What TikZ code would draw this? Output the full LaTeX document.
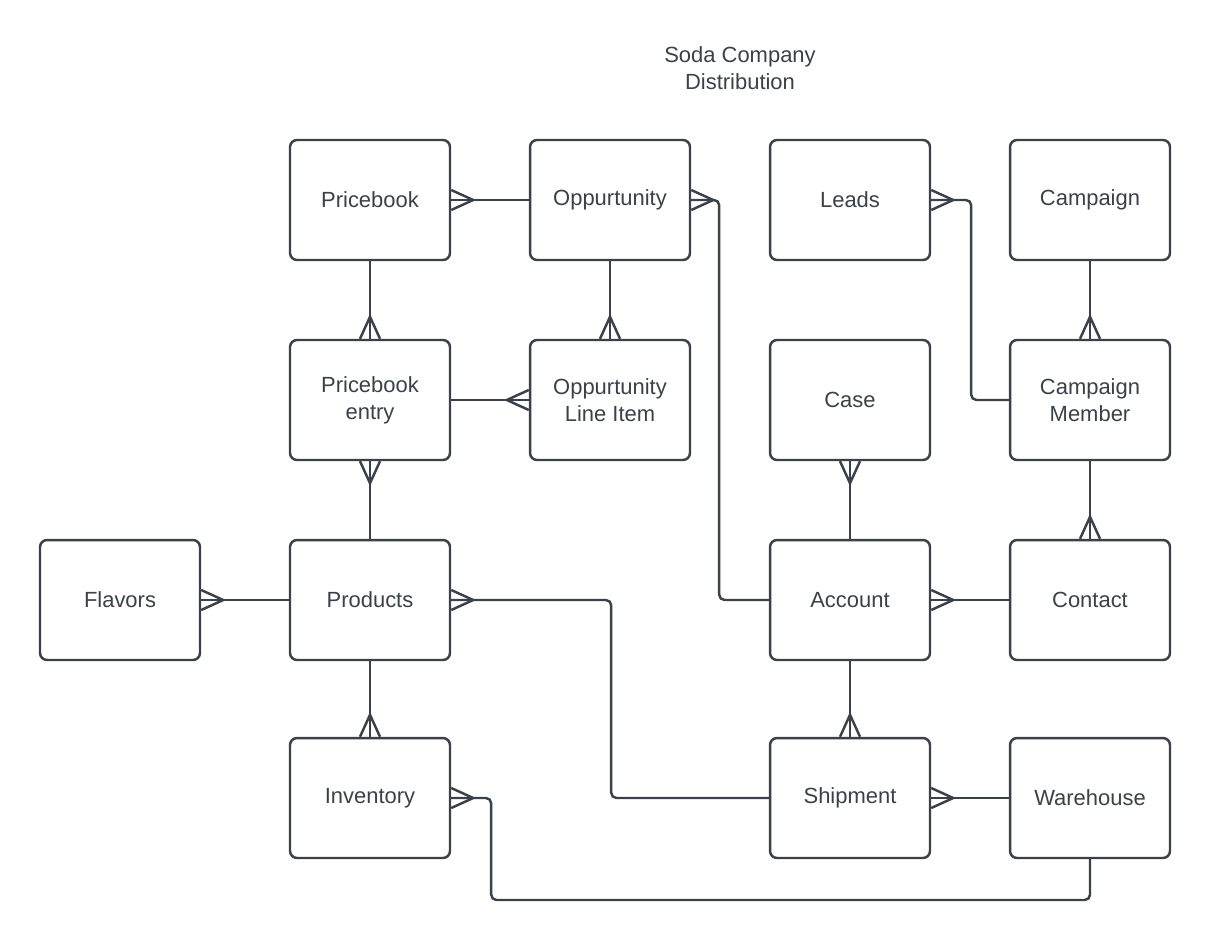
\documentclass[tikz,border=0pt]{standalone}
\usepackage{fontspec}
\setmainfont{Liberation Sans}
\usetikzlibrary{positioning}
\definecolor{ink}{HTML}{3A414A}
\tikzset{
    entity/.style={rectangle, rounded corners=4pt, draw=ink, line width=1.4pt, minimum width=3.2cm, minimum height=2.4cm, align=center, text=ink, font=\fontsize{12.5}{15.4}\selectfont},
    link/.style={draw=ink, line width=1.4pt, rounded corners=3pt},
    crow/.style={draw=ink, line width=1.4pt, sharp corners},
    heading/.style={align=center, text=ink, font=\fontsize{12.5}{15.4}\selectfont}
}
% crow's foot: point, direction of the apex
\newcommand{\crowfoot}[2]{\draw[crow, shift={(#1)}, rotate=#2] (0cm,0.2cm) -- (0.44cm,0cm) -- (0cm,-0.2cm);}

\begin{document}
\begin{tikzpicture}[x=0.02cm, y=-0.02cm]
        \useasboundingbox (0,0) rectangle (1210,940);

        % Title
        \node[heading] (title) at (740,68) {Soda Company\\Distribution};

        % Top row
        \node[entity] (pb) at (370,200) {Pricebook};
        \node[entity] (opp) at (610,200) {Oppurtunity};
        \node[entity] (leads) at (850,200) {Leads};
        \node[entity] (camp) at (1090,200) {Campaign};

        % Second row
        \node[entity] (pbe) at (370,400) {Pricebook\\entry};
        \node[entity] (oli) at (610,400) {Oppurtunity\\Line Item};
        \node[entity] (case) at (850,400) {Case};
        \node[entity] (cm) at (1090,400) {Campaign\\Member};

        % Third row
        \node[entity] (flav) at (120,600) {Flavors};
        \node[entity] (prod) at (370,600) {Products};
        \node[entity] (acct) at (850,600) {Account};
        \node[entity] (contact) at (1090,600) {Contact};

        % Bottom row
        \node[entity] (inv) at (370,798) {Inventory};
        \node[entity] (ship) at (850,798) {Shipment};
        \node[entity] (wh) at (1090,798) {Warehouse};

        % Connectors
        \draw[link] (pb) -- (opp);
        \draw[link] (pb) -- (pbe);
        \draw[link] (opp) -- (oli);
        \draw[link] (pbe) -- (oli);
        \draw[link] (pbe) -- (prod);
        \draw[link] (flav) -- (prod);
        \draw[link] (prod) -- (inv);
        \draw[link] (prod.east) -- ++(160,0) |- (ship.west);
        \draw[link] (opp.east) -- ++(28,0) |- (acct.west);
        \draw[link] (leads.east) -- ++(40,0) |- (cm.west);
        \draw[link] (camp) -- (cm);
        \draw[link] (case) -- (acct);
        \draw[link] (cm) -- (contact);
        \draw[link] (acct) -- (contact);
        \draw[link] (acct) -- (ship);
        \draw[link] (ship) -- (wh);
        \draw[link] (inv.east) -- ++(40,0) -- ++(0,102) -| (wh.south);

        % Crow's feet
        \crowfoot{pb.east}{0}
        \crowfoot{pbe.north}{90}
        \crowfoot{oli.north}{90}
        \crowfoot{oli.west}{180}
        \crowfoot{pbe.south}{-90}
        \crowfoot{flav.east}{0}
        \crowfoot{inv.north}{90}
        \crowfoot{prod.east}{0}
        \crowfoot{opp.east}{0}
        \crowfoot{leads.east}{0}
        \crowfoot{cm.north}{90}
        \crowfoot{case.south}{-90}
        \crowfoot{contact.north}{90}
        \crowfoot{acct.east}{0}
        \crowfoot{ship.north}{90}
        \crowfoot{ship.east}{0}
        \crowfoot{inv.east}{0}
    \end{tikzpicture}
\end{document}
